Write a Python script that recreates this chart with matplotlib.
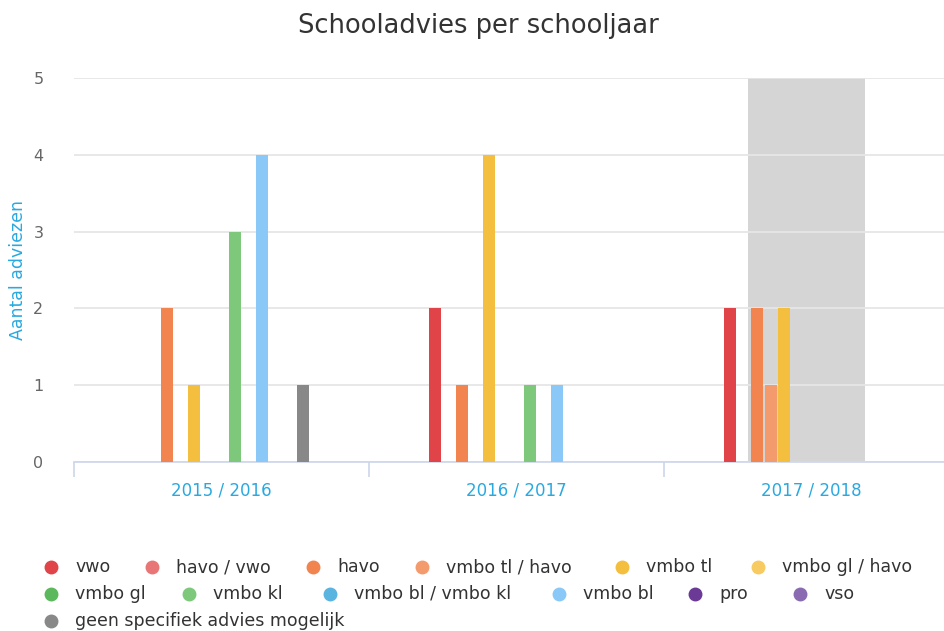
import matplotlib.pyplot as plt
from matplotlib.lines import Line2D
import numpy as np

plt.rcParams['font.family'] = ['DejaVu Sans']

categories = ['2015 / 2016', '2016 / 2017', '2017 / 2018']

series_names = ['vwo', 'havo / vwo', 'havo', 'vmbo tl / havo', 'vmbo tl',
                'vmbo gl / havo', 'vmbo gl', 'vmbo kl', 'vmbo bl / vmbo kl',
                'vmbo bl', 'pro', 'vso', 'geen specifiek advies mogelijk']

vwo = [0, 2, 2]
havo_vwo = [0, 0, 0]
havo = [2, 1, 2]
vmbo_tl_havo = [0, 0, 1]
vmbo_tl = [1, 4, 2]
vmbo_gl_havo = [0, 0, 0]
vmbo_gl = [0, 0, 0]
vmbo_kl = [3, 1, 0]
vmbo_bl_vmbo_kl = [0, 0, 0]
vmbo_bl = [4, 1, 0]
pro = [0, 0, 0]
vso = [0, 0, 0]
geen = [1, 0, 0]

series = [vwo, havo_vwo, havo, vmbo_tl_havo, vmbo_tl, vmbo_gl_havo, vmbo_gl,
          vmbo_kl, vmbo_bl_vmbo_kl, vmbo_bl, pro, vso, geen]

colors = ['#e04448', '#e87676', '#f28450', '#f49b6e', '#f4be3e', '#f7cb62',
          '#5cb85c', '#7ec87b', '#5ab4e0', '#8ac8f7', '#6a3a96', '#8a6bb1',
          '#888888']

W, H = 945, 631
fig = plt.figure(figsize=(W / 100, H / 100), dpi=100)

# plot area in pixels (runs past the right edge, like the original)
left, right, top, bottom = 74, 959, 78, 462
ax = fig.add_axes([left / W, 1 - bottom / H, (right - left) / W, (bottom - top) / H])

x = np.arange(len(categories))
slot = 0.046
n = len(series)
for i, (vals, col) in enumerate(zip(series, colors)):
    off = (i - (n - 1) / 2) * slot
    ax.bar(x + off, vals, width=0.041, color=col, linewidth=0, zorder=3)

# hover band in the last category
ax.axvspan(1.785, 2.181, color='#d5d5d5', zorder=0.4, linewidth=0)

ax.set_xlim(-0.5, 2.5)
ax.set_ylim(0, 5)
ax.set_yticks(range(6))
ax.set_axisbelow(True)
ax.yaxis.grid(True, color='#e6e6e6', linewidth=1.3)

for s in ['top', 'right', 'left']:
    ax.spines[s].set_visible(False)
ax.spines['bottom'].set_color('#ccd6eb')
ax.spines['bottom'].set_linewidth(1.2)

ax.set_xticks(x)
ax.set_xticklabels(categories)
ax.tick_params(axis='x', length=0, pad=14, labelsize=12, labelcolor='#29a9e0')
ax.set_xticks([-0.5, 0.5, 1.5], minor=True)
ax.tick_params(axis='x', which='minor', length=11, width=1.2, color='#ccd6eb')
ax.tick_params(axis='y', length=0, pad=22, labelsize=11.5, labelcolor='#666666')

ax.set_ylabel('Aantal adviezen', fontsize=12.5, color='#29a9e0')
ax.yaxis.set_label_coords(-(left - 27) / (right - left), 0.5)

fig.text(478 / W, 1 - 26 / H, 'Schooladvies per schooljaar', ha='center',
         va='center', fontsize=18.5, color='#333333')

# legend, laid out in rows like the original
legend_rows = [
    ([51, 152, 313, 422, 622, 758], 567),
    ([51, 189, 330, 559, 695, 800], 594),
    ([51], 621),
]
k = 0
for xs, y in legend_rows:
    for cx in xs:
        fig.add_artist(Line2D([cx / W], [1 - y / H], marker='o', markersize=9,
                              color=colors[k], linestyle='none',
                              transform=fig.transFigure))
        fig.text((cx + 24) / W, 1 - y / H, series_names[k], ha='left',
                 va='center', fontsize=12.5, color='#333333')
        k += 1

fig.savefig('out.png', dpi=100)
